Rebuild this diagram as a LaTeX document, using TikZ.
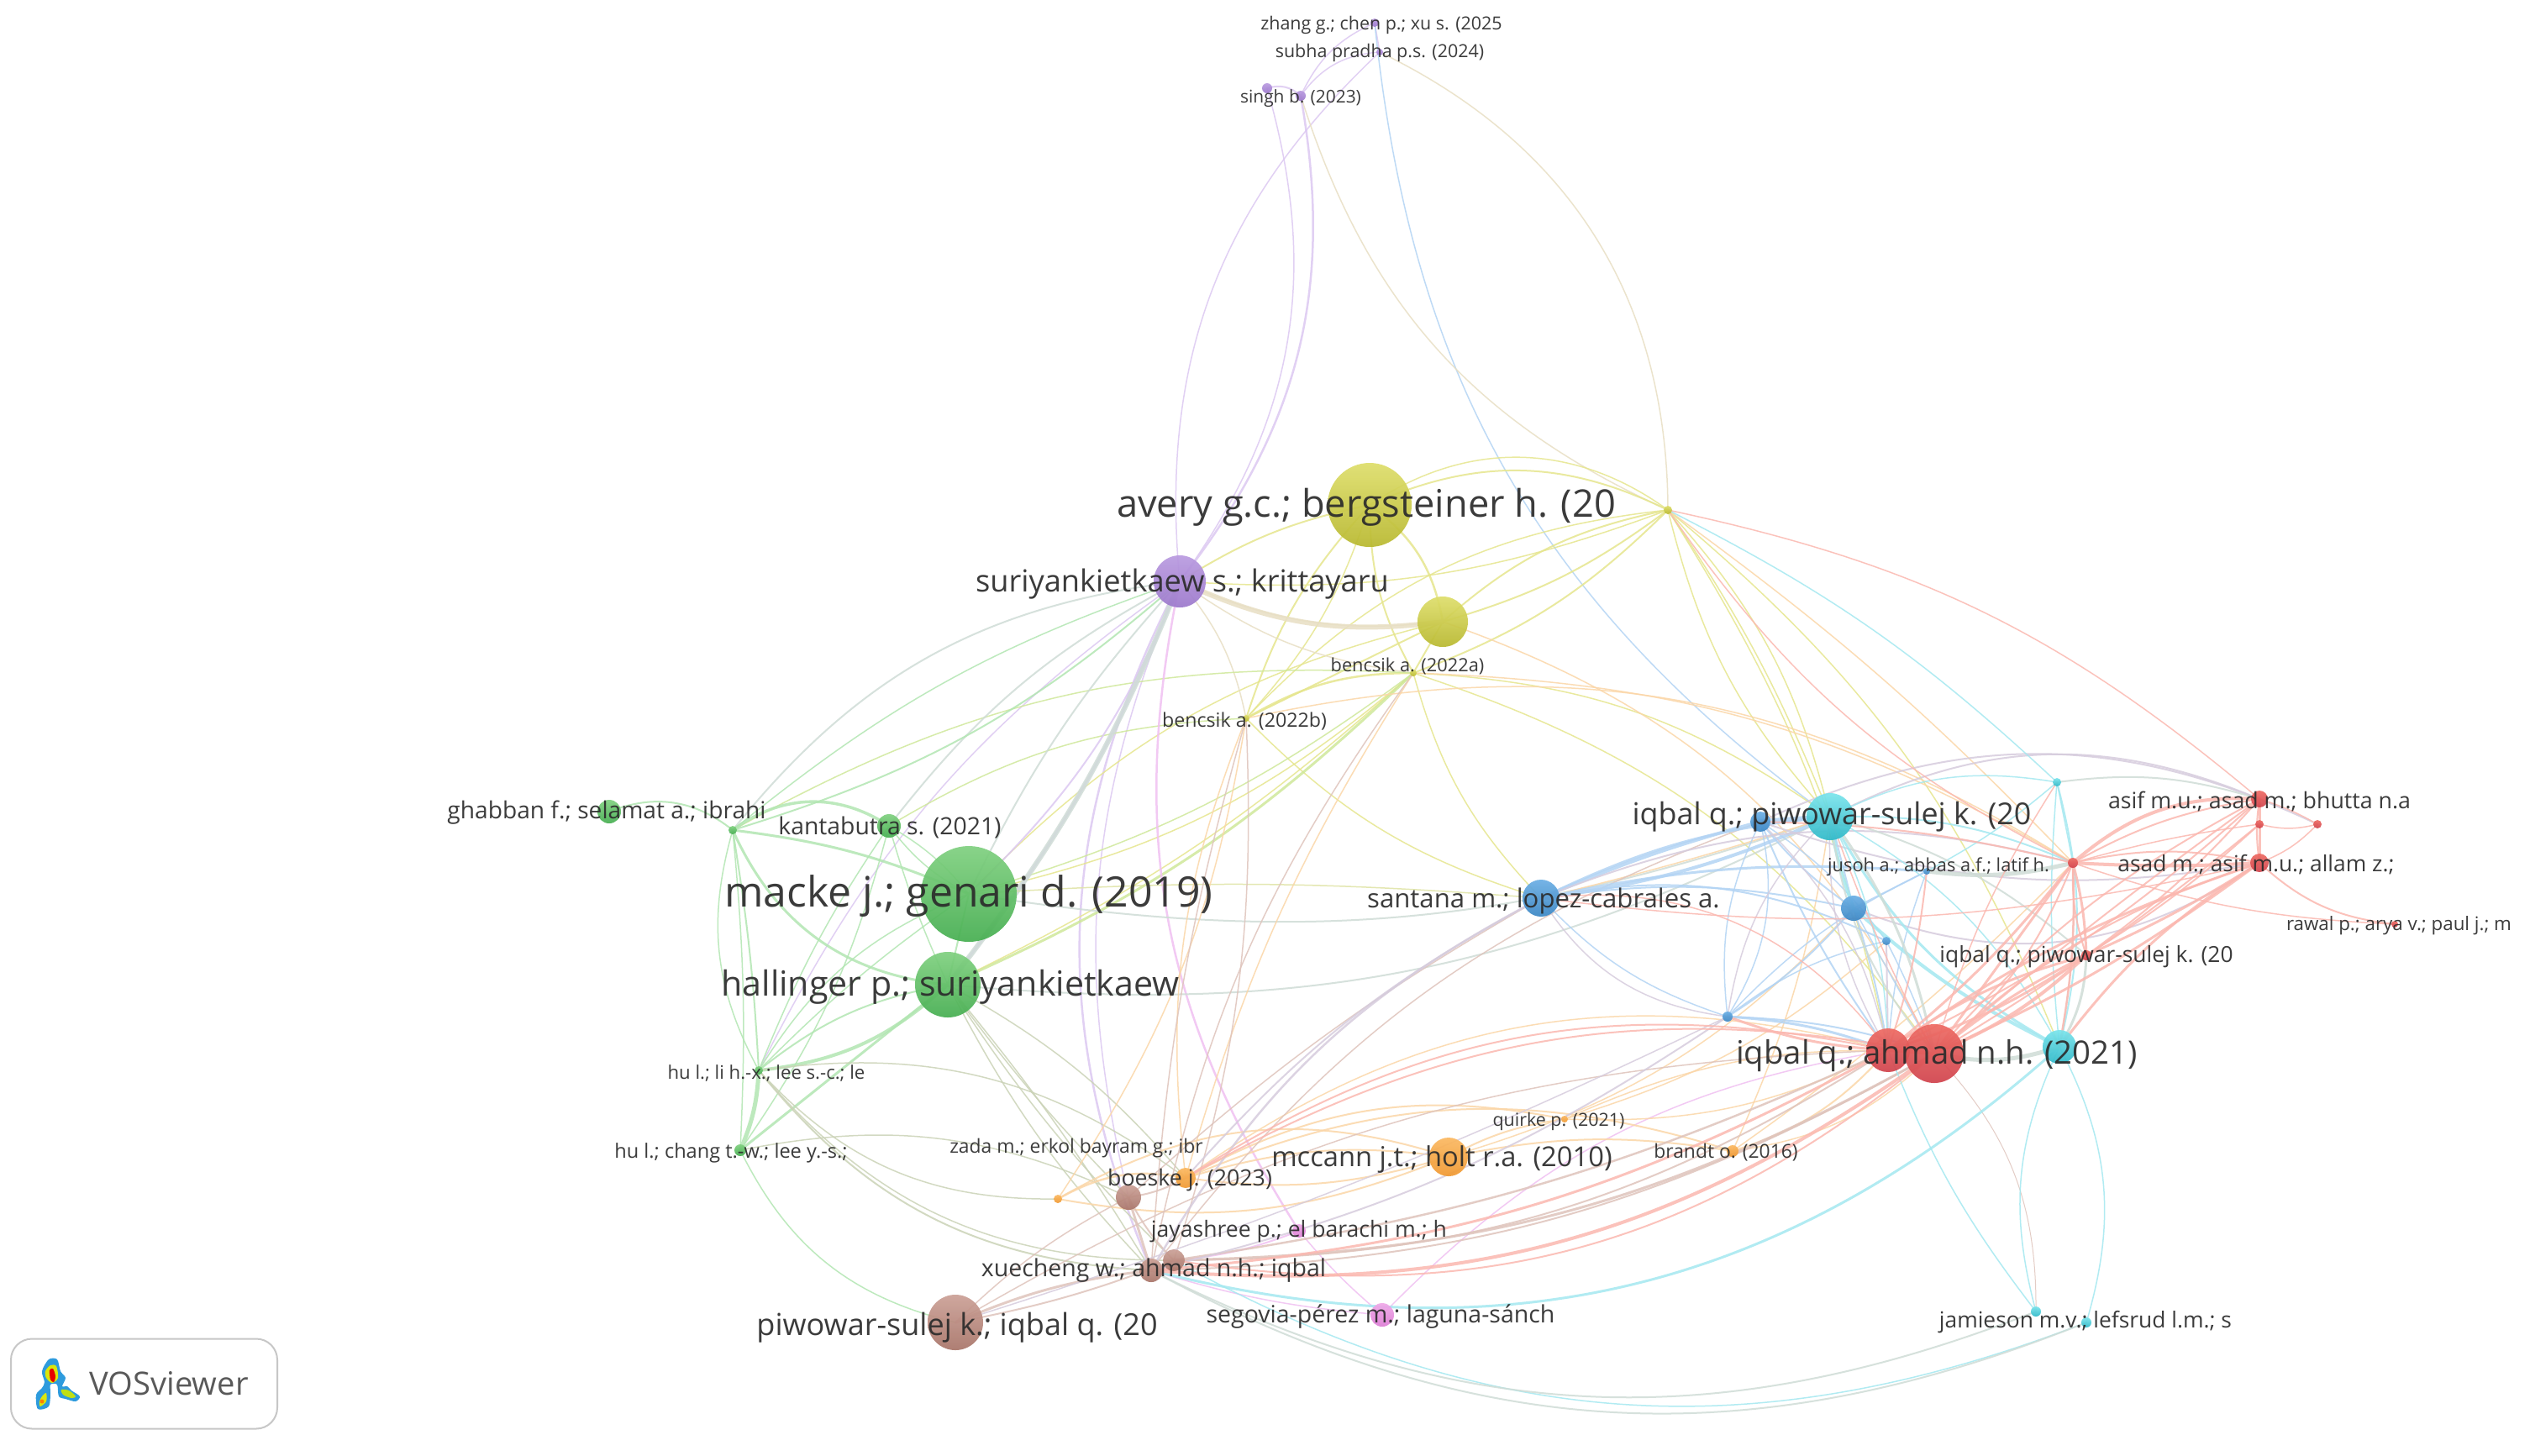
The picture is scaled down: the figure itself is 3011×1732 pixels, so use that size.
\documentclass[tikz,border=0pt]{standalone}
\usepackage{fontspec}
\setmainfont{Open Sans}
\definecolor{cgr}{HTML}{B2E6B2}
\definecolor{cgy}{HTML}{CFDCD6}
\definecolor{cpu}{HTML}{DCC8F2}
\definecolor{cye}{HTML}{E6E68E}
\definecolor{cyg}{HTML}{CFE89A}
\definecolor{cre}{HTML}{FBB8B0}
\definecolor{ccy}{HTML}{A4E8F0}
\definecolor{cbl}{HTML}{B3D4F4}
\definecolor{cor}{HTML}{FBD6A8}
\definecolor{cbr}{HTML}{DFC4BC}
\definecolor{cpi}{HTML}{F0C0F2}
\definecolor{ctn}{HTML}{E8DFC4}
\definecolor{cmv}{HTML}{D6CCDD}
\definecolor{txt}{HTML}{2B2B2B}
\definecolor{g1}{HTML}{7FD07F}\definecolor{g2}{HTML}{45AE50}
\definecolor{y1}{HTML}{DEDE6A}\definecolor{y2}{HTML}{B8B82E}
\definecolor{p1}{HTML}{B99AE0}\definecolor{p2}{HTML}{9C78CC}
\definecolor{r1}{HTML}{EE6A62}\definecolor{r2}{HTML}{D0424C}
\definecolor{c1}{HTML}{7AE4EC}\definecolor{c2}{HTML}{2DB8C8}
\definecolor{b1}{HTML}{6AAEE4}\definecolor{b2}{HTML}{3A86C4}
\definecolor{o1}{HTML}{FBB860}\definecolor{o2}{HTML}{F09830}
\definecolor{w1}{HTML}{CBA096}\definecolor{w2}{HTML}{A87468}
\definecolor{k1}{HTML}{F0A8E8}\definecolor{k2}{HTML}{DC7CD4}
\tikzset{
  lab/.style={font=\fontsize{#1}{#1}\selectfont,text=txt,inner sep=0pt,text opacity=.92,yshift=-0.03cm},
  nd/.style n args={3}{circle,inner sep=0pt,draw=none,minimum size=#1*2*0.01cm,top color=#2,bottom color=#3,fill opacity=.92},
  G/.style={nd={#1}{g1}{g2}},
  Y/.style={nd={#1}{y1}{y2}},
  P/.style={nd={#1}{p1}{p2}},
  R/.style={nd={#1}{r1}{r2}},
  C/.style={nd={#1}{c1}{c2}},
  B/.style={nd={#1}{b1}{b2}},
  O/.style={nd={#1}{o1}{o2}},
  W/.style={nd={#1}{w1}{w2}},
  K/.style={nd={#1}{k1}{k2}},
  edge/.style={line cap=round,draw opacity=.85}
}
\newcommand{\EE}[2]{\foreach \a/\b/\d/\w in {#2}{\draw[edge,draw=#1,line width=\w*0.01cm] (\a.center) to[bend left=\d] (\b.center);}}
\begin{document}
\begin{tikzpicture}[x=0.01cm,y=-0.01cm]
\useasboundingbox (0,0) rectangle (3011,1732);
\fill[white] (0,0) rectangle (3011,1732);
\foreach \n/\x/\y in {avery/1630/601,suri/1404/692,bigb/1717/740,ba/1682/801,bb/1483/855,ys/1985/607,zhang/1636/27,subha/1642/62,singa/1508/105,singb/1548/114,macke/1153/1064,hall/1128/1172,ghab/725/966,gs/872/988,kant/1058/983,huli/903/1274,huch/881/1369,zo/1259/1427,brn/1343/1425,boes/1411/1402,jaya/1546/1465,xua/1370/1512,xub/1397/1500,piwo/1137/1574,sego/1645/1565,mcca/1724/1377,quir/1862/1332,bran/2062/1370,iqpi/2178/972,bla/2095/978,blb/2206/1081,blc/2245/1120,bld/2056/1210,jus/2293/1037,rs/2467/1027,cs/2448/931,asif/2689/951,rsa/2689/981,rsb/2758/981,asad/2689/1027,rawal/2850/1100,iqpr/2483/1137,iqah/2247/1250,iqb/2302/1254,cya/2451/1246,san/1834/1069,jama/2423/1561,jamb/2483/1574}
  {\coordinate (\n) at (\x,\y);}
% purple
\EE{cpu}{suri/subha/26/1.5, suri/singb/-24/2.5, suri/singa/-26/1.5, singa/singb/30/2, subha/singb/-25/1.5, zhang/subha/0/1.5, zhang/singb/-20/1.5, suri/xua/-25/2.5, suri/huli/-14/1.5, suri/brn/-18/1.5}
\EE{cbl}{zhang/iqpi/-24/1.5}
\EE{ctn}{subha/ys/32/1.5, singb/ys/-24/1.5}
% yellow
\EE{cye}{avery/bigb/22/2.5, avery/ys/25/2, avery/ys/35/1.5, avery/ba/-14/2, avery/bb/-12/2, avery/bb/12/1.5, ys/bigb/-15/2, ys/bigb/10/2, ys/bb/-20/1.5, ys/ba/12/2, suri/ys/-12/1.5, bigb/ba/0/2, bigb/bb/0/2, ba/bb/-15/2.5, avery/suri/-10/2, ba/san/-14/1.5, ba/iqpi/16/1.5, ba/iqb/18/1.5, bb/san/-14/1.5, ys/iqah/10/1.5, ys/iqpi/-14/1.5, ys/iqpi/6/1.5, ys/iqpi/14/1.5, ys/cya/14/1.5, ba/hall/8/1.5, ba/macke/14/1.5, bigb/macke/-16/1.5}
\EE{ctn}{suri/bigb/-15/1.5, suri/ba/-14/1.5, suri/bb/14/1.5}
\draw[edge,draw=ctn,line width=6*0.01cm] (suri) to[bend right=16] (bigb);
\EE{cyg}{hall/ba/-10/3, macke/ba/-10/1.5, kant/bb/14/1.5, gs/ba/16/1.5}
\EE{cpu}{suri/hall/8/3, suri/macke/12/2}
\EE{cgy}{hall/suri/-8/6, suri/gs/-22/2, suri/kant/-12/2, macke/suri/8/2}
\EE{cpi}{suri/jaya/-22/2.5, jaya/sego/-5/1.5, jaya/xub/8/2, sego/iqah/18/1.5, sego/xua/6/1.5}
% green
\EE{cgr}{ghab/gs/30/2, gs/kant/35/3.5, gs/macke/8/3, gs/hall/-30/3, gs/huli/3/2, gs/huli/-22/1.5, gs/huch/4/1.5, gs/suri/10/1.5, kant/huli/-6/1.5, kant/huch/10/1.5, kant/macke/10/1.5, kant/macke/-12/1.5, kant/hall/-4/1.5, macke/huli/-18/1.5, macke/hall/0/2, hall/huli/18/4, hall/huli/-14/2, hall/huch/0/3, huli/huch/10/5, huch/piwo/-25/1.5, huli/macke/5/1.5, gs/suri/-12/2}
\EE{cgy}{macke/iqpi/-14/2, hall/iqpi/-16/2}
\EE{cbr!55!cgr}{hall/xua/-8/1.5, hall/xua/4/1.5, hall/xub/-6/1.5, hall/brn/-4/1.5, huli/xua/-24/2, huli/xub/-25/1.5, huli/zo/-24/1.5, huch/brn/18/1.5, huli/boes/22/1.5, hall/boes/10/1.5}
\EE{cye!70!cgy}{macke/san/4/1.5}
% orange
\EE{cor}{boes/mcca/12/2, boes/mcca/-12/2, zo/boes/20/2.5, zo/mcca/-16/2, zo/mcca/24/2, boes/bran/20/2, boes/quir/20/2, boes/iqah/25/1.5, boes/bb/14/1.5, boes/ba/8/1.5, zo/bb/-12/1.5, mcca/bran/10/2, mcca/quir/10/2, bran/iqah/-15/2, bran/iqb/-18/1.5, quir/iqah/-14/1.5, quir/iqb/14/1.5, bran/iqpi/-8/1.5, bb/rs/22/1.5, ba/rs/14/1.5, mcca/blb/-15/1.5, bran/rs/-5/1.5, quir/blc/-12/1.5, ys/rs/5/1.5, san/iqpi/-2/1.5, bigb/iqb/22/1.5}
% brown
\EE{cbr}{brn/xua/0/3, brn/xub/-8/2, xua/piwo/-8/3, xub/piwo/5/2, brn/piwo/-8/1.5, brn/boes/-10/2, xua/xub/0/2, brn/san/6/1.5, xub/iqb/-14/3, xua/iqb/-14/2, xub/iqah/-8/2.5, xub/iqah/-16/2, xua/bla/16/1.5, piwo/iqah/14/1.5, xub/bb/-10/1.5, xua/bb/6/1.5, xua/ba/12/1.5, iqb/jama/22/1}
% blue
\EE{cbl}{san/iqpi/10/3, san/iqpi/-8/4, san/bla/4/4, san/blb/10/2, san/blc/18/2, san/bld/-14/1.5, san/jus/8/3, bla/blb/-8/2, bla/blc/10/1.5, bla/bld/-16/1.5, bla/bld/22/1.5, blb/bld/8/2, blc/bld/-12/1.5, blc/iqb/4/1.5, blb/iqah/4/2, bla/iqah/-6/2, jus/bld/-10/1.5, jus/blb/0/2, jus/iqah/-8/1.5, bld/iqah/8/3, bld/iqb/8/2, iqpi/blb/0/2, blb/iqb/0/1.5, iqpi/bla/0/6}
\EE{cmv}{san/rs/18/2, bla/rsb/25/2, bla/asad/-14/2, blb/asad/-28/2, iqpi/asif/25/2, iqpi/iqah/-16/1.5, bla/iqah/16/1.5, blc/iqah/0/2, bld/san/25/1.5, bld/iqpi/18/1.5, bld/xua/10/2, san/xua/-16/2.5, san/boes/-10/2, bld/piwo/4/1.5}
% cyan
\EE{ccy}{iqpi/cs/18/1.5, iqpi/rs/12/2, iqpi/cya/-16/3, iqpi/cya/16/1.5, blb/cya/-8/4, cs/cya/-5/1.5, cs/cya/14/2, cs/rs/0/1.5, cs/jus/6/1.5, iqpi/blb/-6/4, cya/jama/-20/1.5, cya/jamb/22/1.5, iqah/jama/-8/1.5, cya/xua/28/3, ys/cs/8/1.5, iqpi/iqah/12/1.5, jamb/xub/25/1.5}
\EE{cgy}{iqpi/iqb/12/3, iqpi/iqb/-16/2, iqb/cya/-15/5, cs/asif/12/2, jus/rs/-10/5, iqpr/cya/14/3, iqpr/iqpi/-12/2, rs/cya/6/1.5, jamb/xua/25/2, jama/xua/24/2}
% red
\EE{cre}{iqah/iqpr/-8/3, iqah/iqpr/10/3, iqb/iqpr/-10/4, iqb/iqpr/6/3, iqb/rs/0/3, iqah/rs/-6/3, iqb/rs/-14/2, iqah/asad/8/3, iqb/asad/-6/3, iqb/asad/12/2, iqah/asif/-8/2, iqb/asif/2/2, iqb/asif/10/2, iqb/rsa/-4/2, cya/asad/10/3, cya/rs/-6/2.5, rs/iqpr/6/3, rs/asad/-3/4, rs/asad/12/2, rs/asif/22/4, rs/asif/10/2, rs/rsa/4/1.5, rs/bla/-6/2, iqpr/asad/-4/3, iqpr/asif/-6/2, iqpr/rsa/-5/2, iqpr/rs/10/2, asif/rsa/0/3, rsa/asad/0/3, asif/asad/-8/2, asif/rsb/6/1.5, rsa/rsb/-14/1.5, rsb/asad/12/1.5, asad/rawal/-18/2, rs/rawal/-8/1.5, asad/san/10/1.5, iqah/iqb/0/4, jus/iqah/6/2, bld/iqah/-8/3, iqah/boes/-22/2, iqb/boes/-20/2, iqah/san/-30/1.5, iqb/xua/20/4, iqb/xub/24/2, iqah/xua/12/3, ys/asif/14/1.5, ys/rs/-14/1.5, cs/iqb/-8/1.5, iqpi/iqb/-4/1.5}
% nodes
\node[Y=50] (Navery) at (avery) {};
\node[P=31] (Nsuri) at (suri) {};
\node[Y=30] (Nbigb) at (bigb) {};
\node[Y=4] (Nba) at (ba) {};
\node[Y=4] (Nbb) at (bb) {};
\node[Y=5] (Nys) at (ys) {};
\node[P=5] (Nzhang) at (zhang) {};
\node[P=4] (Nsubha) at (subha) {};
\node[P=6] (Nsinga) at (singa) {};
\node[P=6] (Nsingb) at (singb) {};
\node[G=57] (Nmacke) at (macke) {};
\node[G=39] (Nhall) at (hall) {};
\node[G=14] (Nghab) at (ghab) {};
\node[G=5] (Ngs) at (gs) {};
\node[G=14] (Nkant) at (kant) {};
\node[G=5] (Nhuli) at (huli) {};
\node[G=7] (Nhuch) at (huch) {};
\node[O=5] (Nzo) at (zo) {};
\node[W=15] (Nbrn) at (brn) {};
\node[O=12] (Nboes) at (boes) {};
\node[K=8] (Njaya) at (jaya) {};
\node[W=14] (Nxua) at (xua) {};
\node[W=13] (Nxub) at (xub) {};
\node[W=33] (Npiwo) at (piwo) {};
\node[K=14] (Nsego) at (sego) {};
\node[O=23] (Nmcca) at (mcca) {};
\node[O=4] (Nquir) at (quir) {};
\node[O=7] (Nbran) at (bran) {};
\node[B=12] (Nbla) at (bla) {};
\node[C=28] (Niqpi) at (iqpi) {};
\node[B=15] (Nblb) at (blb) {};
\node[B=5] (Nblc) at (blc) {};
\node[B=6] (Nbld) at (bld) {};
\node[B=4] (Njus) at (jus) {};
\node[R=6] (Nrs) at (rs) {};
\node[C=5] (Ncs) at (cs) {};
\node[R=10] (Nasif) at (asif) {};
\node[R=5] (Nrsa) at (rsa) {};
\node[R=5] (Nrsb) at (rsb) {};
\node[R=11] (Nasad) at (asad) {};
\node[R=4] (Nrawal) at (rawal) {};
\node[R=6] (Niqpr) at (iqpr) {};
\node[R=26] (Niqah) at (iqah) {};
\node[R=35] (Niqb) at (iqb) {};
\node[C=20] (Ncya) at (cya) {};
\node[B=22] (Nsan) at (san) {};
\node[C=6] (Njama) at (jama) {};
\node[C=6] (Njamb) at (jamb) {};
% labels
\node[lab=14.2] (Lmacke) at (1153,1064) {macke j.; genari d. (2019)};
\node[lab=12.85] (Lavery) at (1626,601) {avery g.c.; bergsteiner h. (20};
\node[lab=11.7] (Lhall) at (1131,1172) {hallinger p.; suriyankietkaew};
\node[lab=10.3] (Lsuri) at (1407,692) {suriyankietkaew s.; krittayaru};
\node[lab=10.25] (Lpiwo) at (1139,1577) {piwowar-sulej k.; iqbal q. (20};
\node[lab=10.2] (Liqpi) at (2180,969) {iqbal q.; piwowar-sulej k. (20};
\node[lab=10.9] (Liqah) at (2305,1254) {iqbal q.; ahmad n.h. (2021)};
\node[lab=8.85] (Lsan) at (1837,1069) {santana m.; lopez-cabrales a.};
\node[lab=9.3] (Lmcca) at (1716,1377) {mccann j.t.; holt r.a. (2010)};
\node[lab=8] (Lghab) at (722,964) {ghabban f.; selamat a.; ibrahi};
\node[lab=8.06] (Lkant) at (1059,982) {kantabutra s. (2021)};
\node[lab=8.1] (Lxue) at (1373,1509) {xuecheng w.; ahmad n.h.; iqbal};
\node[lab=8.1] (Lsego) at (1643,1564) {segovia-pérez m.; laguna-sánch};
\node[lab=7.6] (Lboes) at (1416,1402) {boeske j. (2023)};
\node[lab=7.55] (Ljaya) at (1546,1463) {jayashree p.; el barachi m.; h};
\node[lab=7.6] (Lasif) at (2689,951) {asif m.u.; asad m.; bhutta n.a};
\node[lab=7.5] (Lasad) at (2685,1026) {asad m.; asif m.u.; allam z.;};
\node[lab=7.5] (Liqpr) at (2483,1136) {iqbal q.; piwowar-sulej k. (20};
\node[lab=6.2] (Ljus) at (2307,1029) {jusoh a.; abbas a.f.; latif h.};
\node[lab=6.35] (Lrawal) at (2855,1099) {rawal p.; arya v.; paul j.; m};
\node[lab=6.6] (Lbb) at (1481,855) {bencsik a. (2022b)};
\node[lab=6.2] (Lba) at (1675,790) {bencsik a. (2022a)};
\node[lab=6.3] (Lhuli) at (912,1274) {hu l.; li h.-x.; lee s.-c.; le};
\node[lab=6.7] (Lhuch) at (870,1369) {hu l.; chang t.-w.; lee y.-s.;};
\node[lab=6.5] (Lzada) at (1281,1364) {zada m.; erkol bayram g.; ibr};
\node[lab=6.1] (Lquir) at (1855,1332) {quirke p. (2021)};
\node[lab=6.5] (Lbran) at (2054,1369) {brandt o. (2016)};
\node[lab=7.5] (Ljam) at (2482,1571) {jamieson m.v.; lefsrud l.m.; s};
\node[lab=6.1] (Lzhang) at (1644,27) {zhang g.; chen p.; xu s. (2025};
\node[lab=6.1] (Lsubha) at (1642,60) {subha pradha p.s. (2024)};
\node[lab=5.95] (Lsing) at (1548,114) {singh b. (2023)};
% VOSviewer badge
\node[draw=black!22,line width=2*0.01cm,rounded corners=0.25cm,fill=white,minimum width=317*0.01cm,minimum height=107*0.01cm,inner sep=0pt] (badge) at (171.5,1647) {};
\node[inner sep=0pt,text=black!65,font=\fontsize{10.85}{10.85}\selectfont] (vos) at (201,1647) {VOSviewer};
\fill[cyan!75!blue!85] plot[smooth cycle] coordinates {(58,1618)(68,1618)(72,1632)(78,1640)(74,1650)(80,1650)(85,1655)(95,1662)(90,1668)(78,1665)(70,1662)(68,1648)(60,1648)(60,1658)(58,1674)(45,1677)(43,1660)(50,1652)(53,1645)(50,1632)};
\fill[yellow!85!green] plot[smooth cycle] coordinates {(60,1625)(67,1626)(69,1640)(62,1646)(55,1640)(54,1632)};
\fill[red!90!black] plot[smooth cycle] coordinates {(59,1631)(63,1629)(66,1638)(64,1645)(60,1642)};
\fill[yellow!85!green] plot[smooth cycle] coordinates {(50,1662)(55,1658)(55,1668)(48,1674)(47,1668)};
\fill[orange] (50,1668) circle (2.5);
\fill[yellow!75!green] plot[smooth cycle] coordinates {(73,1654)(82,1655)(90,1662)(85,1664)(75,1660)};
\end{tikzpicture}
\end{document}
